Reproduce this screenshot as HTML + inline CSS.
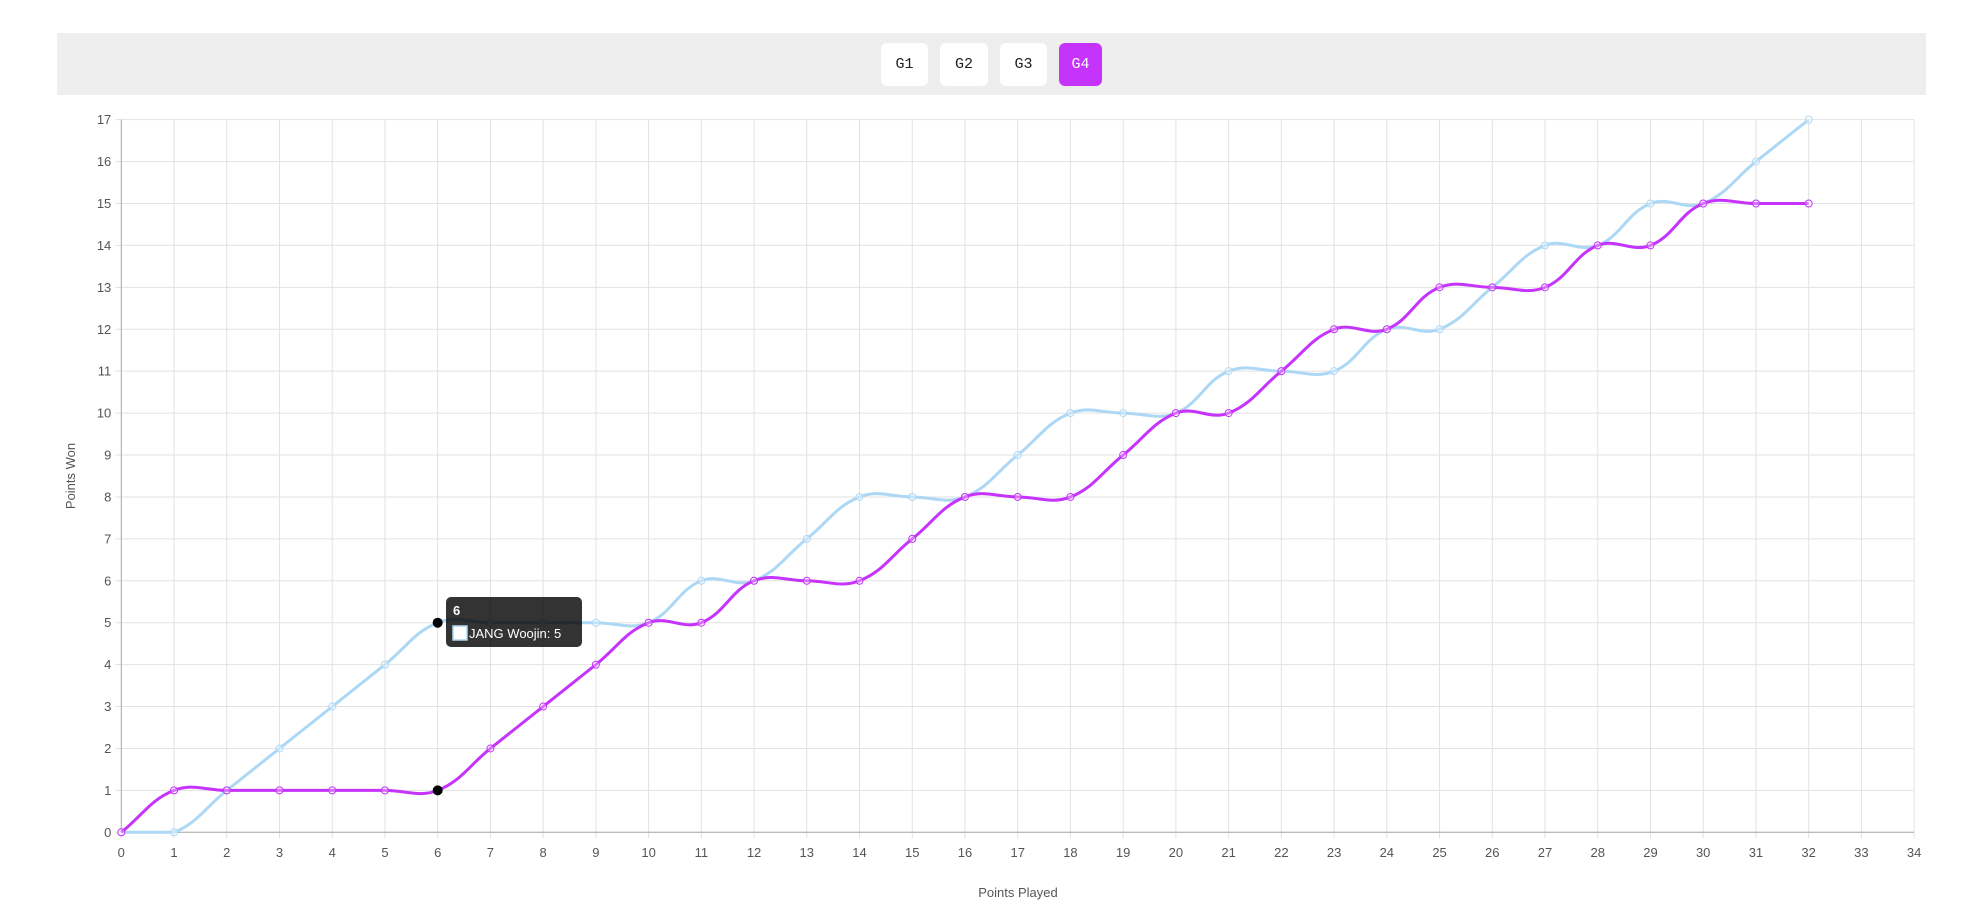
<!DOCTYPE html>
<html><head><meta charset="utf-8"><style>
body{margin:0;background:#fff;width:1975px;height:909px;overflow:hidden;font-family:"Liberation Sans",sans-serif}
.bar{position:absolute;left:57px;top:33px;width:1869px;height:62px;background:#eeeeee}
.btn{position:absolute;top:43px;height:43px;border-radius:6px;background:#fff;font-family:"Liberation Mono",monospace;font-size:15px;color:#222;text-align:center;line-height:43px}
</style></head><body>
<div class="bar"></div>
<div class="btn" style="left:881px;width:47px">G1</div>
<div class="btn" style="left:940px;width:48px">G2</div>
<div class="btn" style="left:1000px;width:47px">G3</div>
<div class="btn" style="left:1059px;width:43px;background:#c633fb;color:#fff">G4</div>
<svg id="s" width="1975" height="909" style="position:absolute;left:0;top:0"></svg>
<script>
const X0=121.3,XU=52.73,Y0=832.3,YU=41.92;
const X=v=>X0+v*XU,Y=v=>Y0-v*YU;
let h='';
for(let i=0;i<=34;i++){h+=`<line x1="${X(i)}" y1="${Y(17)}" x2="${X(i)}" y2="${Y0+6}" stroke="#e2e2e2" stroke-width="1"/>`;
h+=`<text x="${X(i)}" y="857" font-size="13" fill="#555" text-anchor="middle">${i}</text>`;}
for(let j=0;j<=17;j++){h+=`<line x1="${X0-6}" y1="${Y(j)}" x2="${X(34)}" y2="${Y(j)}" stroke="#e2e2e2" stroke-width="1"/>`;
h+=`<text x="${X0-10}" y="${Y(j)+4.5}" font-size="13" fill="#555" text-anchor="end">${j}</text>`;}
h+=`<line x1="${X0}" y1="${Y(17)}" x2="${X0}" y2="${Y0}" stroke="#aaa"/><line x1="${X0}" y1="${Y0}" x2="${X(34)}" y2="${Y0}" stroke="#aaa"/>`;
h+=`<text x="1018" y="897" font-size="13" fill="#555" text-anchor="middle">Points Played</text>`;
h+=`<text transform="translate(75,${Y(8.5)}) rotate(-90)" font-size="13" fill="#555" text-anchor="middle">Points Won</text>`;
const blue=[0,0,1,2,3,4,5,5,5,5,5,6,6,7,8,8,8,9,10,10,10,11,11,11,12,12,13,14,14,15,15,16,17];
const purp=[0,1,1,1,1,1,1,2,3,4,5,5,6,6,6,7,8,8,8,9,10,10,11,12,12,13,13,13,14,14,15,15,15];
const cy=v=>Math.min(Y0,Math.max(Y(17),v));
function path(d){const p=d.map((v,i)=>[X(i),Y(v)]);const cps=[];
for(let i=0;i<p.length;i++){const pr=p[Math.max(i-1,0)],c=p[i],nx=p[Math.min(i+1,p.length-1)];
const d01=Math.hypot(c[0]-pr[0],c[1]-pr[1]),d12=Math.hypot(nx[0]-c[0],nx[1]-c[1]);
let s01=d01/(d01+d12||1),s12=d12/(d01+d12||1);const fa=.4*s01,fb=.4*s12;
cps.push([[c[0]-fa*(nx[0]-pr[0]),cy(c[1]-fa*(nx[1]-pr[1]))],[c[0]+fb*(nx[0]-pr[0]),cy(c[1]+fb*(nx[1]-pr[1]))]]);}
let s=`M${p[0][0]},${p[0][1]}`;for(let i=1;i<p.length;i++){s+=`C${cps[i-1][1][0]},${cps[i-1][1][1]} ${cps[i][0][0]},${cps[i][0][1]} ${p[i][0]},${p[i][1]}`;}return s;}
function series(d,col){let o=`<path d="${path(d)}" fill="none" stroke="${col}" stroke-width="3"/>`;
d.forEach((v,i)=>{o+=`<circle cx="${X(i)}" cy="${Y(v)}" r="3.5" fill="rgba(255,255,255,0.3)" stroke="${col}" stroke-width="1"/>`});return o;}
h+=series(blue,'#acd8f5');h+=series(purp,'#c633fb');
h+=`<circle cx="${X(6)}" cy="${Y(5)}" r="5" fill="#000"/><circle cx="${X(6)}" cy="${Y(1)}" r="5" fill="#000"/>`;
h+=`<rect x="446" y="597" width="136" height="50" rx="5" fill="rgba(0,0,0,0.8)"/>`;
h+=`<text x="453" y="615" font-size="13" font-weight="bold" fill="#fff">6</text>`;
h+=`<rect x="453" y="626" width="14" height="14" fill="#fff" stroke="#acd8f5" stroke-width="1.5"/>`;
h+=`<text x="469" y="638" font-size="13" fill="#fff">JANG Woojin: 5</text>`;
document.getElementById('s').innerHTML=h;
</script>
</body></html>
